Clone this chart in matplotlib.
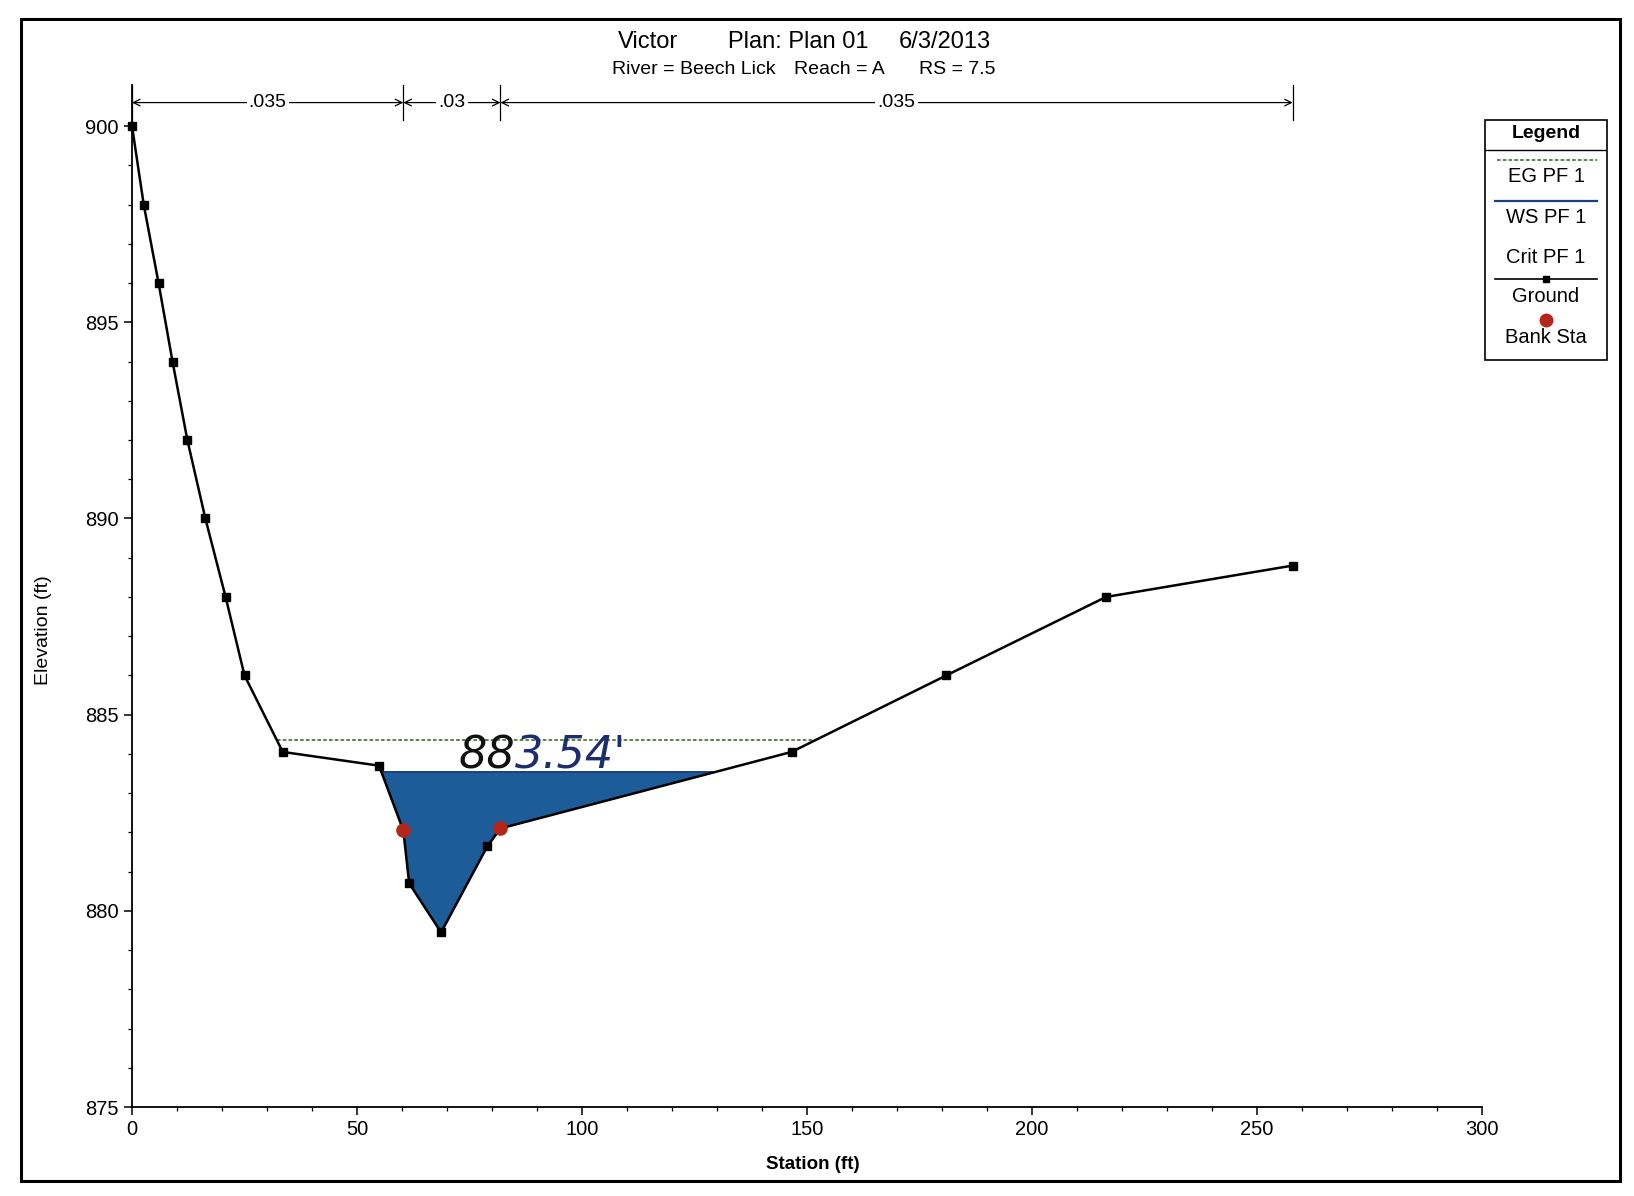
import matplotlib
matplotlib.use("Agg")
import matplotlib.pyplot as plt
from matplotlib.patches import Rectangle
from matplotlib.lines import Line2D
import numpy as np

plt.rcParams['font.family'] = ['Liberation Sans', 'DejaVu Sans']

# --- Cross section data (RS 7.5) ---
station = [0.0, 2.6, 5.9, 9.0, 12.3, 16.3, 20.8, 25.0, 33.5, 54.9, 60.3,
           61.6, 68.7, 79.0, 81.9, 146.6, 181.0, 216.5, 258.0]
elev = [900.0, 898.0, 896.0, 894.0, 892.0, 890.0, 888.0, 886.0, 884.05,
        883.7, 882.05, 880.7, 879.45, 881.65, 882.1, 884.05, 886.0, 888.0, 888.8]
bank_sta = [60.3, 81.9]
ws_elev = 883.54
eg_elev = 884.35

# Manning's n breaks across the section
n_sta = [0.0, 60.3, 81.9, 258.0]
n_vals = ['.035', '.03', '.035']

x_ticks = [0, 50, 100, 150, 200, 250, 300]
y_ticks = [875, 880, 885, 890, 895, 900]


def level_limits(level):
    """Stations where the ground crosses a level on each side of the low point."""
    xs = np.asarray(station)
    zs = np.asarray(elev)
    low = int(np.argmin(zs))
    left = xs[0]
    for i in range(low, 0, -1):
        if zs[i - 1] >= level >= zs[i]:
            left = np.interp(level, [zs[i], zs[i - 1]], [xs[i], xs[i - 1]])
            break
    right = xs[-1]
    for i in range(low, len(xs) - 1):
        if zs[i] <= level <= zs[i + 1]:
            right = np.interp(level, [zs[i], zs[i + 1]], [xs[i], xs[i + 1]])
            break
    return left, right


fig = plt.figure(figsize=(16.34, 11.96), dpi=100)
fig.patch.set_facecolor('white')

# page border
fig.add_artist(Rectangle((21 / 1634, 1 - 1181 / 1196), (1620 - 21) / 1634,
                         (1181 - 19) / 1196, transform=fig.transFigure,
                         fill=False, edgecolor='black', linewidth=2.2))

ax = fig.add_axes([0.0808, 0.0744, 0.826, 0.8546])
ax.set_xlim(0, 300)
ax.set_ylim(875, 901.05)
for side in ['top', 'right']:
    ax.spines[side].set_visible(False)
for side in ['left', 'bottom']:
    ax.spines[side].set_linewidth(1.3)

ax.set_xticks(x_ticks)
ax.set_yticks(y_ticks)
ax.set_xticks(np.arange(0, 301, 10), minor=True)
ax.set_yticks(np.arange(875, 901, 1), minor=True)
ax.tick_params(which='major', length=6, width=1.1, labelsize=14.5)
ax.tick_params(which='minor', length=3, width=0.9)

# water surface fill
sta_arr = np.asarray(station)
elev_arr = np.asarray(elev)
ax.fill_between(sta_arr, elev_arr, ws_elev, where=elev_arr < ws_elev,
                interpolate=True, color='#1c5d99', linewidth=0, zorder=2)
ws_l, ws_r = level_limits(ws_elev)
ax.plot([ws_l, ws_r], [ws_elev, ws_elev], color='#1a3f7a', lw=1.4, zorder=3)

# energy grade line
eg_l, eg_r = level_limits(eg_elev)
ax.plot([eg_l, eg_r], [eg_elev, eg_elev], color='#4d7d3c', lw=1.3,
        linestyle=(0, (2, 1.2)), zorder=3)

# ground
ax.plot(station, elev, color='black', lw=1.8, marker='s', markersize=5.5,
        zorder=4, clip_on=False)
bank_elev = np.interp(bank_sta, station, elev)
ax.plot(bank_sta, bank_elev, 'o', color='#b5261a', markersize=9.5, zorder=5,
        linestyle='none')

# n-value arrows
n_y = 900.6
for s in n_sta:
    ax.plot([s, s], [n_y - 0.45, n_y + 0.45], color='black', lw=0.9,
            clip_on=False, zorder=3)
for i, label in enumerate(n_vals):
    x0, x1 = n_sta[i], n_sta[i + 1]
    ax.annotate('', xy=(x1, n_y), xytext=(x0, n_y),
                arrowprops=dict(arrowstyle='<->', lw=0.9, color='black',
                                shrinkA=0, shrinkB=0, mutation_scale=12))
    ax.text((x0 + x1) / 2, n_y, label, ha='center', va='center', fontsize=14,
            bbox=dict(facecolor='white', edgecolor='none', pad=1.5), zorder=4)

# handwritten water surface note: first digits inked darker
note_kw = dict(fontsize=32, family='DejaVu Sans', style='oblique', zorder=6)
t88 = ax.text(72.5, 883.62, "88", color='#111111', ha='left', va='baseline',
              **note_kw)
ax.annotate("3.54'", xy=(1, 0), xycoords=t88, ha='left', va='bottom',
            color='#1d2d6e', **note_kw)

# titles and axis labels
fig.text(0.378, 0.965, 'Victor', fontsize=17, va='center')
fig.text(0.4455, 0.965, 'Plan: Plan 01', fontsize=17, va='center')
fig.text(0.550, 0.965, '6/3/2013', fontsize=17, va='center')
fig.text(0.3745, 0.9415, 'River = Beech Lick', fontsize=14, va='center')
fig.text(0.486, 0.9415, 'Reach = A', fontsize=14, va='center')
fig.text(0.5624, 0.9415, 'RS = 7.5', fontsize=14, va='center')
fig.text(0.0269, 0.473, 'Elevation (ft)', fontsize=14, rotation=90,
         ha='center', va='center')
fig.text(0.4975, 0.026, 'Station (ft)', fontsize=13.5, fontweight='bold',
         ha='center', va='center')

# legend panel
lg = fig.add_axes([0.9088, 0.699, 0.0747, 0.2007])
lg.set_xlim(0, 1)
lg.set_ylim(0, 1)
lg.axis('off')
lg.add_patch(Rectangle((0, 0), 1, 1, fill=False, edgecolor='black', lw=1.2,
                       transform=lg.transAxes, clip_on=False))
lg.add_line(Line2D([0, 1], [0.875, 0.875], color='black', lw=1.0))
lg.text(0.5, 0.945, 'Legend', fontsize=14, fontweight='bold', ha='center', va='center')
lg.add_line(Line2D([0.1, 0.92], [0.832, 0.832], color='#4d7d3c', lw=1.3,
                   linestyle=(0, (2, 1.2))))
lg.text(0.5, 0.763, 'EG PF 1', fontsize=14.5, ha='center', va='center')
lg.add_line(Line2D([0.08, 0.92], [0.664, 0.664], color='#1a3f7a', lw=1.6))
lg.text(0.5, 0.595, 'WS PF 1', fontsize=14.5, ha='center', va='center')
lg.text(0.5, 0.427, 'Crit PF 1', fontsize=14.5, ha='center', va='center')
lg.add_line(Line2D([0.08, 0.92], [0.336, 0.336], color='black', lw=1.2))
lg.plot([0.5], [0.336], marker='s', color='black', markersize=5)
lg.text(0.5, 0.263, 'Ground', fontsize=14.5, ha='center', va='center')
lg.plot([0.5], [0.168], marker='o', color='#b5261a', markersize=9)
lg.text(0.5, 0.095, 'Bank Sta', fontsize=14.5, ha='center', va='center')

fig.savefig('out.png', dpi=100)
